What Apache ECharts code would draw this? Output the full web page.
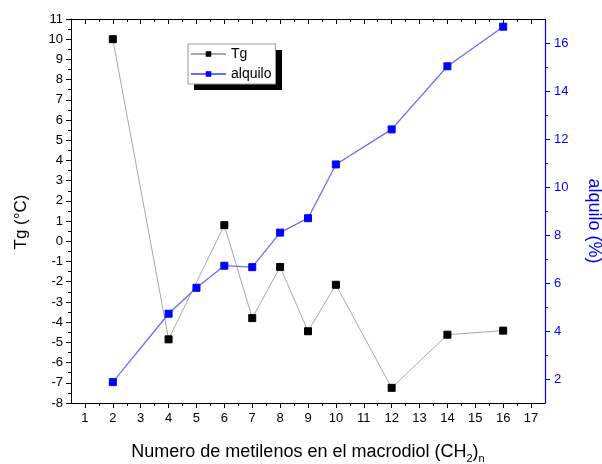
<!DOCTYPE html>
<html>
<head>
<meta charset="utf-8">
<script src="https://cdn.jsdelivr.net/npm/echarts@6/dist/echarts.min.js"></script>
<style>html,body{margin:0;padding:0;background:#fff;}#c{width:602px;height:464px;}</style>
</head>
<body>
<div id="c"></div>
<script>
// ---- data ----
const tgX = [2, 4, 6, 7, 8, 9, 10, 12, 14, 16];
const tgValues = [10, -4.85, 0.8, -3.8, -1.27, -4.45, -2.15, -7.25, -4.62, -4.42];
const alquiloX = [2, 4, 5, 6, 7, 8, 9, 10, 12, 14, 16];
const alquiloValues = [1.87, 4.72, 5.8, 6.72, 6.66, 8.1, 8.7, 10.94, 12.4, 15.03, 16.68];
const xTickLabels = [1, 2, 3, 4, 5, 6, 7, 8, 9, 10, 11, 12, 13, 14, 15, 16, 17];
const xMinorTicks = [1.5, 2.5, 3.5, 4.5, 5.5, 6.5, 7.5, 8.5, 9.5, 10.5, 11.5, 12.5, 13.5, 14.5, 15.5, 16.5];
const rightTickLabels = [2, 4, 6, 8, 10, 12, 14, 16];
const rightMinorTicks = [3, 5, 7, 9, 11, 13, 15];

const FONT = 'Arial, "Liberation Sans", sans-serif';
const BLUE = '#0000ff';

const chart = echarts.init(document.getElementById('c'), null, {renderer: 'canvas'});

function xAxisBase(extra) {
  return Object.assign({
    type: 'value', min: 0.5, max: 17.5, gridIndex: 0,
    splitLine: {show: false},
    axisLine: {show: false, onZero: false, lineStyle: {color: '#000', width: 1}},
    axisLabel: {show: false},
    axisTick: {show: false}
  }, extra);
}

const option = {
  animation: false,
  backgroundColor: '#fff',
  textStyle: {fontFamily: FONT},
  grid: {left: 71, right: 57, top: 19, bottom: 61, outerBoundsMode: 'none', containLabel: false},
  graphic: [
    {type: 'rect', left: 194, top: 50, shape: {width: 88, height: 40}, style: {fill: '#000'}, z: 1, silent: true}
  ],
  legend: {
    data: ['Tg', 'alquilo'],
    orient: 'vertical',
    left: 188, top: 44,
    itemWidth: 35, itemHeight: 7, itemGap: 6,
    padding: [3, 4, 3, 2],
    backgroundColor: '#fff',
    borderColor: '#999', borderWidth: 1,
    z: 5,
    textStyle: {fontSize: 14, lineHeight: 14, color: '#000', fontFamily: FONT}
  },
  xAxis: [
    xAxisBase({
      position: 'bottom',
      axisLine: {show: true, onZero: false, lineStyle: {color: '#000', width: 1}},
      axisTick: {show: true, customValues: xTickLabels, length: 5, lineStyle: {color: '#000'}},
      axisLabel: {show: true, customValues: xTickLabels, margin: 9, fontSize: 13, color: '#000', fontFamily: FONT},
      name: 'Numero de metilenos en el macrodiol (CH{sub|2}){sub|n}',
      nameLocation: 'middle', nameGap: 37,
      nameTextStyle: {
        fontSize: 18, color: '#000', fontFamily: FONT, lineHeight: 24,
        rich: {sub: {fontSize: 11, color: '#000', fontFamily: FONT, lineHeight: 10, verticalAlign: 'bottom'}}
      }
    }),
    xAxisBase({
      position: 'bottom',
      axisTick: {show: true, customValues: xMinorTicks, length: 3, lineStyle: {color: '#000'}}
    }),
    xAxisBase({
      position: 'top',
      axisLine: {show: true, onZero: false, lineStyle: {color: '#000', width: 1}},
      axisTick: {show: true, inside: true, customValues: xTickLabels, length: 5, lineStyle: {color: '#000'}}
    }),
    xAxisBase({
      position: 'top',
      axisTick: {show: true, inside: true, customValues: xMinorTicks, length: 3, lineStyle: {color: '#000'}}
    })
  ],
  yAxis: [
    {
      type: 'value', position: 'left', min: -8, max: 11, interval: 1,
      splitLine: {show: false},
      axisLine: {show: true, onZero: false, lineStyle: {color: '#000', width: 1}},
      axisTick: {show: true, length: 5, lineStyle: {color: '#000'}},
      minorTick: {show: true, splitNumber: 2, length: 3, lineStyle: {color: '#000'}},
      axisLabel: {fontSize: 13, color: '#000', margin: 8, fontFamily: FONT},
      name: 'Tg (°C)', nameLocation: 'middle', nameGap: 41, nameRotate: 90,
      nameTextStyle: {fontSize: 17, color: '#000', fontFamily: FONT, padding: [0, 0, 0, -22]}
    },
    {
      type: 'value', position: 'right', min: 1, max: 17,
      splitLine: {show: false},
      axisLine: {show: true, onZero: false, lineStyle: {color: BLUE, width: 1.2}},
      axisTick: {show: true, customValues: rightTickLabels, length: 5, lineStyle: {color: BLUE}},
      axisLabel: {customValues: rightTickLabels, fontSize: 13, color: BLUE, margin: 9, fontFamily: FONT},
      name: 'alquilo (%)', nameLocation: 'middle', nameGap: 40, nameRotate: -90,
      nameTextStyle: {fontSize: 18, color: BLUE, fontFamily: FONT, padding: [0, 0, 0, 20]}
    },
    {
      type: 'value', position: 'right', min: 1, max: 17,
      splitLine: {show: false},
      axisLine: {show: false},
      axisTick: {show: true, customValues: rightMinorTicks, length: 3, lineStyle: {color: BLUE}},
      axisLabel: {show: false}
    }
  ],
  series: [
    {
      name: 'Tg', type: 'line', xAxisIndex: 0, yAxisIndex: 0,
      data: tgX.map((x, i) => [x, tgValues[i]]),
      symbol: 'rect', symbolSize: 7,
      lineStyle: {color: '#a8a8a8', width: 1},
      itemStyle: {color: '#000', borderColor: '#000'},
      z: 3
    },
    {
      name: 'alquilo', type: 'line', xAxisIndex: 0, yAxisIndex: 1,
      data: alquiloX.map((x, i) => [x, alquiloValues[i]]),
      symbol: 'rect', symbolSize: 7,
      lineStyle: {color: '#6b6bff', width: 1.3},
      itemStyle: {color: BLUE, borderColor: BLUE},
      z: 4
    }
  ]
};
chart.setOption(option);
</script>
</body>
</html>
